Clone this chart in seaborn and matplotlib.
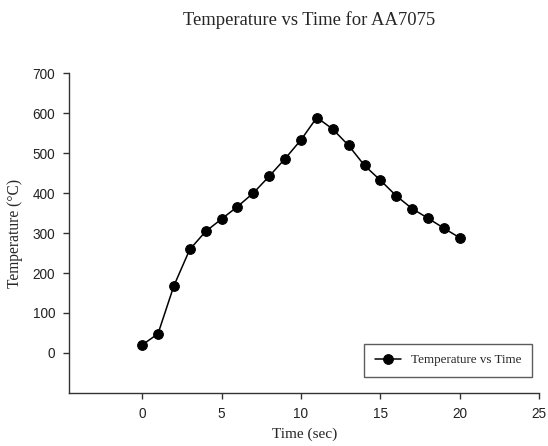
import matplotlib
matplotlib.use("Agg")
import matplotlib.pyplot as plt
import seaborn as sns
import pandas as pd

time_sec = [0, 1, 2, 3, 4, 5, 6, 7, 8, 9, 10, 11, 12, 13, 14, 15, 16, 17, 18, 19, 20]
temperature = [20, 48, 168, 259, 304, 335, 366, 400, 442, 486, 533, 589,
               560, 519, 469, 432, 393, 361, 337, 312, 288]
series_label = "Temperature vs Time"
x_ticks = [0, 5, 10, 15, 20, 25]
y_ticks = [0, 100, 200, 300, 400, 500, 600, 700]

sns.set_theme(style="white")
plt.rcParams["font.family"] = ["Liberation Sans", "DejaVu Sans"]

df = pd.DataFrame({"Time": time_sec, "Temperature": temperature})

fig = plt.figure(figsize=(5.48, 4.46), dpi=100)
ax = fig.add_axes([0.126, 0.119, 0.858, 0.717])

sns.lineplot(data=df, x="Time", y="Temperature", ax=ax, color="black",
             marker="o", markersize=7, markeredgecolor="black",
             linewidth=1.1, label=series_label)

ax.set_xlim(-4.6, 25)
ax.set_ylim(-100, 700)
ax.set_xticks(x_ticks)
ax.set_yticks(y_ticks)
ax.tick_params(axis="both", direction="out", length=4, width=1, color="#333333",
               labelsize=9.8, labelcolor="#222222", bottom=True, left=True, pad=6)

for s in ["top", "right"]:
    ax.spines[s].set_visible(False)
for s in ["left", "bottom"]:
    ax.spines[s].set_color("#333333")
    ax.spines[s].set_linewidth(1.0)

serif = ["Liberation Serif", "DejaVu Serif"]
ax.set_xlabel("Time (sec)", family=serif, fontsize=11, labelpad=5)
ax.set_ylabel("Temperature (\u00b0C)", family=serif, fontsize=11.2, labelpad=7)
fig.text(0.564, 0.955, "Temperature vs Time for AA7075", family=serif,
         fontsize=13.4, ha="center", va="center")

leg = ax.legend(loc="lower right", bbox_to_anchor=(0.985, 0.05),
                borderaxespad=0,
                prop={"family": serif, "size": 9.4}, frameon=True,
                fancybox=False, handlelength=2.0, borderpad=0.8)
leg.get_frame().set_edgecolor("#333333")
leg.get_frame().set_linewidth(1.0)

fig.savefig("out.png", dpi=100)
